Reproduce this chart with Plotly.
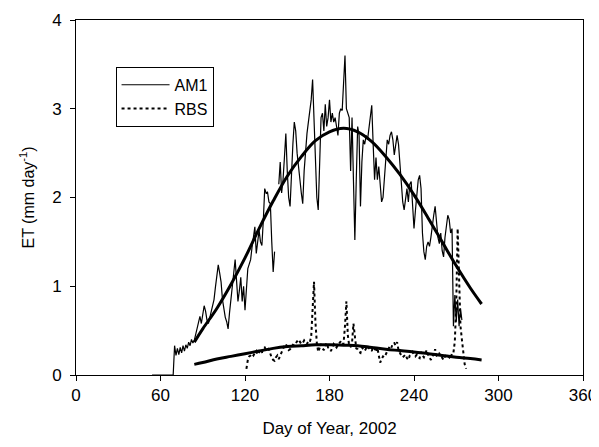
import plotly.graph_objects as go

# daily ET, AM1 site (mm/day), days 54..274
am1_start = 54
am1_et = [
    0, 0, 0, 0, 0, 0, 0, 0, 0, 0,                                  # 54-63
    0, 0, 0, 0, 0, 0, 0.33, 0.22, 0.30, 0.23,                      # 64-73
    0.31, 0.25, 0.33, 0.27, 0.34, 0.30, 0.37, 0.33, 0.40, 0.36,    # 74-83
    0.39, 0.45, 0.52, 0.60, 0.66, 0.58, 0.70, 0.78, 0.72, 0.62,    # 84-93
    0.58, 0.65, 0.74, 0.81, 0.85, 0.99, 1.10, 1.24, 1.15, 1.05,    # 94-103
    0.85, 0.73, 0.65, 0.60, 0.52, 0.70, 0.83, 1.00, 1.15, 1.30,    # 104-113
    1.05, 0.83, 0.95, 1.10, 0.83, 1.00, 0.73, 1.00, 1.20, 1.25,    # 114-123
    1.30, 1.44, 1.55, 1.67, 1.37, 1.50, 1.63, 1.50, 1.46, 1.74,    # 124-133
    2.10, 2.05, 2.06, 1.95, 1.93, 1.50, 1.16, 1.39, None, None,    # 134-143
    2.15, 2.40, 2.05, 2.20, 2.45, 2.72, 2.30, 2.00, 1.90, 2.30,    # 144-153
    2.60, 2.85, 2.75, 2.50, 2.30, 2.20, 2.05, 1.93, 2.30, 2.55,    # 154-163
    2.72, 2.85, 2.95, 3.10, 3.33, 2.90, 2.40, 2.00, 1.86, 2.50,    # 164-173
    2.90, 2.95, 2.75, 3.05, 2.80, 2.90, 3.10, 2.85, 2.95, 2.85,    # 174-183
    2.90, 2.80, 2.70, 2.95, 3.00, 2.98, 3.30, 3.60, 3.00, 2.95,    # 184-193
    2.90, 2.30, 2.90, 2.20, 1.52, 2.20, 2.80, 2.70, 1.90, 2.40,    # 194-203
    2.65, 2.60, 2.70, 2.65, 2.80, 2.90, 3.04, 2.60, 2.20, 2.45,    # 204-213
    2.20, 2.35, 2.10, 1.95, 2.00, 2.23, 2.50, 2.65, 2.60, 2.70,    # 214-223
    2.74, 2.65, 2.48, 2.60, 2.70, 2.60, 2.40, 2.20, 1.95, 1.86,    # 224-233
    2.00, 2.10, 1.95, 2.15, 2.18, 1.90, 1.65, 1.85, 2.08, 2.20,    # 234-243
    2.25, 2.10, 1.60, 1.39, 1.30, 1.45, 1.50, 1.45, 1.55, 1.70,    # 244-253
    1.80, 1.90, 1.75, 1.55, 1.48, 1.60, 1.40, 1.33, 1.55, 1.70,    # 254-263
    1.80, 1.75, 1.60, 1.65, 0.55, 0.90, 0.60, 0.85, 0.55, 0.75,    # 264-273
    0.62,                                                          # 274
]
am1_days = list(range(am1_start, am1_start + len(am1_et)))

# daily ET, RBS site (mm/day), days 121..277
rbs_start = 121
rbs_et = [
    0.07, 0.17, 0.21, 0.22, 0.24, 0.22, 0.25, 0.27, 0.23, 0.26,    # 121-130
    0.28, 0.25, 0.30, 0.31, 0.28, 0.30, 0.29, 0.24, 0.19, 0.17,    # 131-140
    0.16, 0.20, 0.22, 0.18, 0.22, 0.26, 0.30, 0.33, 0.35, 0.31,    # 141-150
    0.28, 0.29, 0.32, 0.34, 0.33, 0.36, 0.38, 0.40, 0.37, 0.35,    # 151-160
    0.36, 0.39, 0.37, 0.35, 0.38, 0.37, 0.43, 0.70, 1.05, 0.60,    # 161-170
    0.36, 0.26, 0.30, 0.35, 0.30, 0.28, 0.33, 0.36, 0.31, 0.30,    # 171-180
    0.27, 0.32, 0.35, 0.33, 0.31, 0.34, 0.36, 0.38, 0.34, 0.36,    # 181-190
    0.55, 0.83, 0.45, 0.33, 0.32, 0.36, 0.58, 0.40, 0.30, 0.29,    # 191-200
    0.26, 0.25, 0.31, 0.29, 0.27, 0.30, 0.28, 0.31, 0.29, 0.27,    # 201-210
    0.32, 0.30, 0.26, 0.31, 0.22, 0.14, 0.18, 0.21, 0.20, 0.24,    # 211-220
    0.28, 0.30, 0.33, 0.31, 0.36, 0.36, 0.33, 0.37, 0.28, 0.24,    # 221-230
    0.22, 0.20, 0.21, 0.23, 0.19, 0.17, 0.22, 0.24, 0.26, 0.23,    # 231-240
    0.21, 0.23, 0.20, 0.19, 0.26, 0.22, 0.20, 0.24, 0.28, 0.23,    # 241-250
    0.20, 0.17, 0.21, 0.23, 0.29, 0.22, 0.20, 0.24, 0.22, 0.19,    # 251-260
    0.17, 0.21, 0.23, 0.22, 0.20, 0.18, 0.25, 0.25, 0.38, 0.80,    # 261-270
    1.65, 1.00, 0.55, 0.40, 0.22, 0.12, 0.07,                      # 271-277
]
rbs_days = list(range(rbs_start, rbs_start + len(rbs_et)))

# smoothed seasonal fits
fit_days = [84, 90, 100, 110, 120, 130, 140, 150, 160, 170, 180, 190,
            200, 210, 220, 230, 240, 250, 260, 270, 280, 288]
am1_fit = [0.37, 0.52, 0.75, 1.02, 1.32, 1.65, 1.96, 2.24, 2.46, 2.64, 2.74, 2.78,
           2.74, 2.63, 2.46, 2.26, 2.03, 1.77, 1.50, 1.23, 0.98, 0.80]
rbs_fit = [0.12, 0.14, 0.18, 0.21, 0.24, 0.27, 0.30, 0.32, 0.33, 0.34, 0.34, 0.335,
           0.33, 0.31, 0.29, 0.275, 0.26, 0.24, 0.22, 0.20, 0.185, 0.17]

x_ticks = [0, 60, 120, 180, 240, 300, 360]
y_ticks = [0, 1, 2, 3, 4]

FONT = "Liberation Sans, Arial, sans-serif"

fig = go.Figure()
fig.add_trace(go.Scatter(
    x=am1_days, y=am1_et, mode="lines", name="AM1",
    line=dict(color="black", width=1.2), connectgaps=False,
))
fig.add_trace(go.Scatter(
    x=rbs_days, y=rbs_et, mode="lines", name="RBS",
    line=dict(color="black", width=2, dash="dot"),
))
fig.add_trace(go.Scatter(
    x=fit_days, y=am1_fit, mode="lines", showlegend=False,
    line=dict(color="black", width=3, shape="spline"),
))
fig.add_trace(go.Scatter(
    x=fit_days, y=rbs_fit, mode="lines", showlegend=False,
    line=dict(color="black", width=3, shape="spline"),
))

# page body adds an 8px margin, so the figure is a bit smaller than the window
fig.update_layout(
    width=591, height=439,
    margin=dict(l=67.5, r=15.5, t=12, b=72),
    paper_bgcolor="white", plot_bgcolor="white",
    font=dict(family=FONT, size=17, color="black"),
    showlegend=True,
    legend=dict(
        x=0.078, y=0.868, xanchor="left", yanchor="top",
        bordercolor="black", borderwidth=1, bgcolor="white",
        font=dict(family=FONT, size=16, color="black"),
        tracegroupgap=0, itemwidth=48, entrywidth=52,
    ),
)
fig.update_xaxes(
    range=[0, 360], tickvals=x_ticks, ticks="outside", ticklen=5, tickwidth=1,
    tickcolor="black", showline=True, linecolor="black", linewidth=1, mirror=True,
    showgrid=False, zeroline=False, automargin=False,
    title=dict(text="Day of Year, 2002", standoff=17,
               font=dict(family=FONT, size=17, color="black")),
    tickfont=dict(family=FONT, size=17, color="black"),
)
fig.update_yaxes(
    range=[0, 4], tickvals=y_ticks, ticks="outside", ticklen=5, tickwidth=1,
    tickcolor="black", showline=True, linecolor="black", linewidth=1, mirror=True,
    showgrid=False, zeroline=False, automargin=False, ticklabelstandoff=5,
    title=dict(text="ET (mm day<sup>-1</sup>)", standoff=13,
               font=dict(family=FONT, size=16, color="black")),
    tickfont=dict(family=FONT, size=17, color="black"),
)

fig.write_html("out.html")
